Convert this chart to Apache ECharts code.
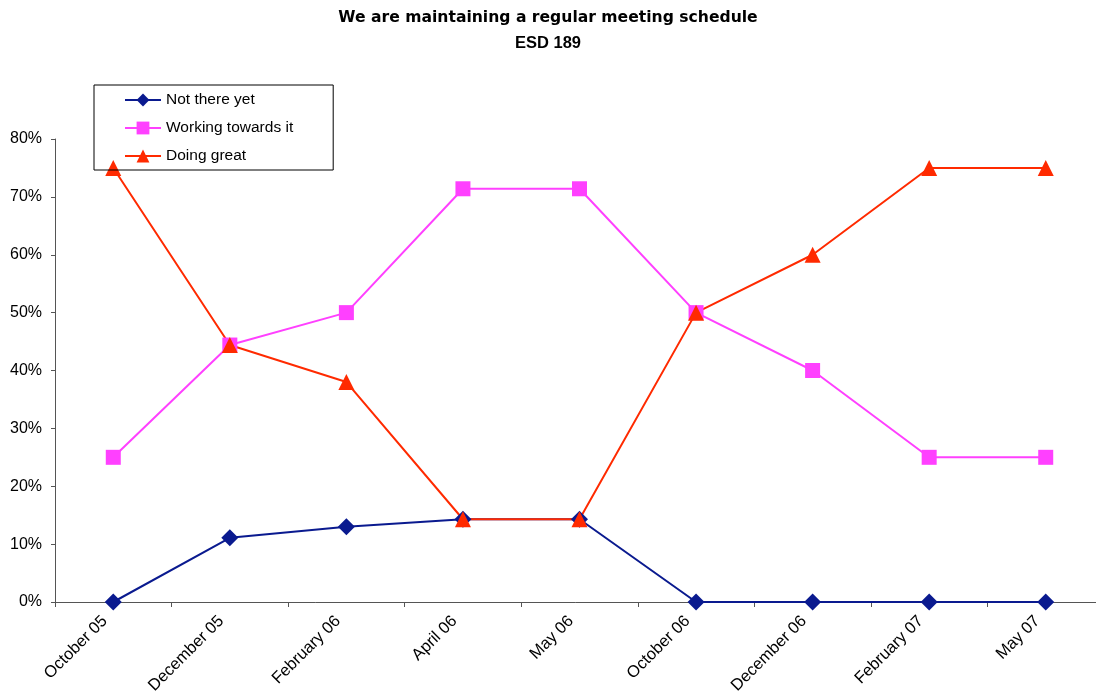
<!DOCTYPE html>
<html>
<head>
<meta charset="utf-8">
<script src="https://cdn.jsdelivr.net/npm/echarts@6/dist/echarts.min.js"></script>
<style>html,body{margin:0;padding:0;background:#fff}#c{width:1096px;height:700px}</style>
</head>
<body>
<div id="c"></div>
<script>
const categories = ['October 05','December 05','February 06','April 06','May 06','October 06','December 06','February 07','May 07'];
const notThereYet = [0, 11.1, 13, 14.3, 14.3, 0, 0, 0, 0];
const workingTowards = [25, 44.4, 50, 71.4, 71.4, 50, 40, 25, 25];
const doingGreat = [75, 44.4, 38, 14.3, 14.3, 50, 60, 75, 75];
const yTicks = [0, 10, 20, 30, 40, 50, 60, 70, 80];
const titleLines = ['We are maintaining a regular meeting schedule', 'ESD 189'];

const font = 'Liberation Sans, Arial, sans-serif';
const chart = echarts.init(document.getElementById('c'));
chart.setOption({
  animation: false,
  backgroundColor: '#fff',
  title: [
    {text: titleLines[0], left: 'center', top: 10, padding: 0,
     textStyle: {fontFamily: 'DejaVu Sans, sans-serif', fontSize: 15.6, fontWeight: 'bold', color: '#000'}},
    {text: titleLines[1], left: 'center', top: 35, padding: 0,
     textStyle: {fontFamily: font, fontSize: 16.5, fontWeight: 'bold', color: '#000'}}
  ],
  legend: {
    orient: 'vertical', left: 94, top: 85,
    padding: [7, 40, 6, 30],
    itemWidth: 36, itemHeight: 16, itemGap: 12,
    borderColor: '#000', borderWidth: 1,
    textStyle: {fontFamily: font, fontSize: 15.5, color: '#000'},
    data: ['Not there yet','Working towards it','Doing great']
  },
  grid: {left: 55, top: 139, bottom: 98, width: 1049, outerBoundsMode: 'none', containLabel: false},
  xAxis: {
    type: 'category', data: categories, boundaryGap: true,
    axisLine: {lineStyle: {color: '#555', width: 1}},
    axisTick: {show: true, length: 5, inside: false, lineStyle: {color: '#555'}},
    axisLabel: {rotate: 45, fontFamily: font, fontSize: 16.5, color: '#000', margin: 8, padding: [0, 12, 0, 0], interval: 0},
    splitLine: {show: false}
  },
  yAxis: {
    type: 'value', min: 0, max: 80, interval: 10,
    axisLine: {show: true, lineStyle: {color: '#555', width: 1}},
    axisTick: {show: true, length: 4, lineStyle: {color: '#555'}},
    axisLabel: {fontFamily: font, fontSize: 16, color: '#000', margin: 13, formatter: v => yTicks.includes(v) ? v + '%' : ''},
    splitLine: {show: false}
  },
  series: [
    {name: 'Not there yet', type: 'line', data: notThereYet, symbol: 'diamond', symbolSize: 17,
     lineStyle: {color: '#0a1a8f', width: 2}, itemStyle: {color: '#0a1a8f'}},
    {name: 'Working towards it', type: 'line', data: workingTowards, symbol: 'rect', symbolSize: 15,
     lineStyle: {color: '#ff40ff', width: 2}, itemStyle: {color: '#ff40ff'}},
    {name: 'Doing great', type: 'line', data: doingGreat, symbol: 'triangle', symbolSize: 16,
     lineStyle: {color: '#ff2a00', width: 2}, itemStyle: {color: '#ff2a00'}}
  ]
});
</script>
</body>
</html>
